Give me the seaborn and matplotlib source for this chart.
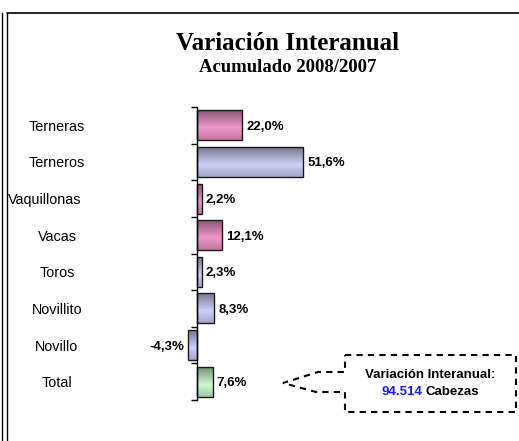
import matplotlib
matplotlib.use('Agg')
import matplotlib.pyplot as plt
import seaborn as sns
import numpy as np
import pandas as pd
from matplotlib.lines import Line2D
from matplotlib.patches import Polygon
from matplotlib.colors import to_rgb
from matplotlib.transforms import blended_transform_factory

categories = ["Terneras", "Terneros", "Vaquillonas", "Vacas", "Toros", "Novillito", "Novillo", "Total"]
values = [22.0, 51.6, 2.2, 12.1, 2.3, 8.3, -4.3, 7.6]
value_labels = ["22,0%", "51,6%", "2,2%", "12,1%", "2,3%", "8,3%", "-4,3%", "7,6%"]
groups = ["hembra", "macho", "hembra", "hembra", "macho", "macho", "macho", "total"]
title = "Variación Interanual"
subtitle = "Acumulado 2008/2007"
box_line1 = "Variación Interanual:"
box_number = "94.514"
box_unit = "Cabezas"

sns.set_theme(style="white")
plt.rcParams['font.family'] = ['Liberation Sans', 'DejaVu Sans']
plt.rcParams['text.color'] = 'black'
plt.rcParams['axes.labelcolor'] = 'black'
plt.rcParams['xtick.color'] = 'black'
plt.rcParams['ytick.color'] = 'black'

W, H = 519, 441
fig = plt.figure(figsize=(W / 100, H / 100), dpi=100)
fig.patch.set_facecolor("white")


def fx(px):
    return px / W


def fy(py):
    return 1 - py / H


ax = fig.add_axes([fx(130), fy(400), 340 / W, 293 / H])
ax.set_facecolor("none")
df = pd.DataFrame({"cat": categories, "val": values, "grp": groups})
light = {"hembra": "#ff88c8", "macho": "#c8c8ff", "total": "#c8ffc8"}
sns.barplot(data=df, x="val", y="cat", hue="grp", palette=light, dodge=False,
            width=0.82, legend=False, ax=ax, edgecolor="#1a1a1a", linewidth=1.0,
            orient="h")

xlim = (-32.5, 132.5)
ylim = (7.5, -0.5)

# gradient fill like the original shaded bars
t = np.linspace(0, 1, 64)
prof = np.interp(t, [0, 0.6, 1], [0.0, 1.0, 0.55])
for p in list(ax.patches):
    if p.get_width() == 0:
        continue
    c = np.array(to_rgb(p.get_facecolor()))
    dark = c * 0.55
    img = dark[None, :] + (c - dark)[None, :] * prof[:, None]
    img = img[:, None, :]
    x0, y0, w, h = p.get_x(), p.get_y(), p.get_width(), p.get_height()
    im = ax.imshow(img, extent=[x0, x0 + w, y0 + h, y0], origin='upper',
                   aspect='auto', interpolation='bilinear', zorder=p.get_zorder() - 0.1)
    im.set_clip_path(p)
    p.set_facecolor("none")

ax.set_xlim(*xlim)
ax.set_ylim(*ylim)
ax.set_aspect('auto')

for s in ["top", "right", "bottom"]:
    ax.spines[s].set_visible(False)
ax.spines["left"].set_position(("data", 0))
ax.spines["left"].set_color("black")
ax.spines["left"].set_linewidth(1.0)
ax.set_xticks([])
ax.set_xlabel("")
ax.set_ylabel("")
ax.set_yticks(range(len(categories)))
ax.set_yticklabels([])
ax.set_yticks(np.arange(-0.5, len(categories), 1), minor=True)
ax.tick_params(axis="y", which="major", length=0)
ax.tick_params(axis="y", which="minor", length=4, width=1, direction="out",
               left=True, color="black")

# category labels (centered, as in the original)
lab_tr = blended_transform_factory(fig.transFigure, ax.transData)
for i, cat in enumerate(categories):
    if cat == "Vaquillonas":
        ax.text(fx(8), i, cat, transform=lab_tr, ha="left", va="center_baseline",
                fontsize=10.4, color="black")
    else:
        ax.text(fx(57), i, cat, transform=lab_tr, ha="center", va="center_baseline",
                fontsize=10.4, color="black")

for i, (v, lab) in enumerate(zip(values, value_labels)):
    ax.annotate(lab, xy=(v, i), xytext=(3 if v >= 0 else -3, 0),
                textcoords="offset points", ha="left" if v >= 0 else "right",
                va="center_baseline", fontsize=9.5, fontweight="bold", color="black")

# titles
fig.text(fx(288), fy(43), title, ha="center", va="center", fontsize=18,
         fontweight="bold", color="black", family=["Liberation Serif", "DejaVu Serif"])
fig.text(fx(288), fy(68), subtitle, ha="center", va="center", fontsize=13.5,
         fontweight="bold", color="black", family=["Liberation Serif", "DejaVu Serif"])

# frame lines
fig.add_artist(Line2D([fx(1.5), fx(1.5)], [fy(13), fy(441)], transform=fig.transFigure,
                      color="black", lw=1.0))
fig.add_artist(Line2D([fx(6.5), fx(6.5)], [fy(13), fy(441)], transform=fig.transFigure,
                      color="black", lw=1.0))
fig.add_artist(Line2D([fx(6.5), fx(519)], [fy(13), fy(13)], transform=fig.transFigure,
                      color="black", lw=1.2))

# callout
pts_px = [(345, 355), (516, 355), (516, 412), (345, 412), (345, 392), (316, 392),
          (283, 383), (318, 372), (345, 372)]
poly = Polygon([(fx(x), fy(y)) for x, y in pts_px], closed=True, fill=False,
               edgecolor="black", lw=1.5, linestyle=(0, (3, 2.5)),
               transform=fig.transFigure)
fig.add_artist(poly)
fig.text(fx(430), fy(375), box_line1, ha="center", va="center", fontsize=9.5,
         fontweight="bold", color="black")
fig.text(fx(422), fy(392), box_number, ha="right", va="center", fontsize=9.5,
         fontweight="bold", color="#1a1aff")
fig.text(fx(426), fy(392), box_unit, ha="left", va="center", fontsize=9.5,
         fontweight="bold", color="black")

fig.savefig("out.png", dpi=100)
